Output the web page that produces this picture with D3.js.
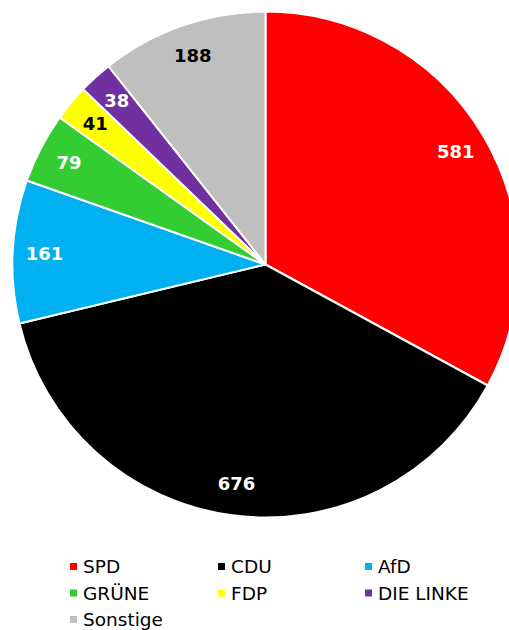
<!DOCTYPE html>
<html>
<head>
<meta charset="utf-8">
<script src="https://cdn.jsdelivr.net/npm/d3@7"></script>
<style>
  body { margin: 0; background: #fff; }
  svg { display: block; font-family: "DejaVu Sans", Verdana, sans-serif; }
</style>
</head>
<body>
<div id="chart"></div>
<script>
// *** data
var parties = ["SPD", "CDU", "AfD", "GRÜNE", "FDP", "DIE LINKE", "Sonstige"];
var seats = [581, 676, 161, 79, 41, 38, 188];
var colors = ["#FF0000", "#000000", "#00B0F0", "#33CC33", "#FFFF00", "#7030A0", "#BFBFBF"];
var labelColors = ["#fff", "#fff", "#fff", "#fff", "#000", "#fff", "#000"];

var width = 509, height = 630;
var cx = 265.5, cy = 264.5, radius = 253;

var data = parties.map(function(p, i) {
    return { name: p, value: seats[i], color: colors[i], text: labelColors[i] };
});

var svg = d3.select("#chart").append("svg")
    .attr("width", width)
    .attr("height", height);

var pie = d3.pie()
    .sort(null)
    .value(function(d) { return d.value; });

var arc = d3.arc().innerRadius(0).outerRadius(radius);
var labelArc = d3.arc().innerRadius(radius * 0.875).outerRadius(radius * 0.875);

var g = svg.append("g")
    .attr("transform", "translate(" + cx + "," + cy + ")");

var arcs = pie(data);

g.selectAll("path")
    .data(arcs)
    .enter().append("path")
    .attr("d", arc)
    .attr("fill", function(d) { return d.data.color; })
    .attr("stroke", "#fff")
    .attr("stroke-width", 2)
    .attr("stroke-linejoin", "round");

g.selectAll("text.val")
    .data(arcs)
    .enter().append("text")
    .attr("class", "val")
    .attr("transform", function(d) { return "translate(" + labelArc.centroid(d) + ")"; })
    .attr("text-anchor", "middle")
    .attr("dy", "0.36em")
    .style("font-size", "18px")
    .style("font-weight", "bold")
    .attr("fill", function(d) { return d.data.text; })
    .text(function(d) { return d.data.value; });

// legend
var colX = [70, 218, 365], rowY = [573, 599.5, 626];
var leg = svg.append("g").attr("class", "legend");
var item = leg.selectAll("g")
    .data(data)
    .enter().append("g")
    .attr("transform", function(d, i) {
        return "translate(" + colX[i % 3] + "," + rowY[Math.floor(i / 3)] + ")";
    });

item.append("rect")
    .attr("x", 0)
    .attr("y", -10)
    .attr("width", 7)
    .attr("height", 7)
    .attr("fill", function(d) { return d.color; });

item.append("text")
    .attr("x", 13)
    .attr("y", 0)
    .style("font-size", "18.5px")
    .attr("fill", "#000")
    .text(function(d) { return d.name; });
</script>
</body>
</html>
